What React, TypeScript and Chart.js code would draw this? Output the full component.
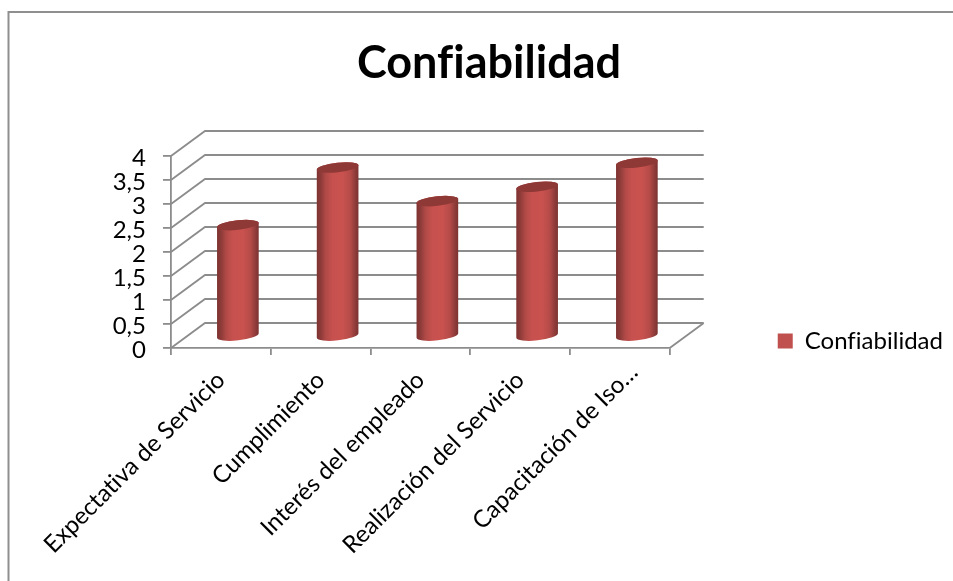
import React, { useEffect, useRef } from "react";
import { Chart, registerables } from "chart.js";

Chart.register(...registerables);

const categories = [
  "Expectativa de Servicio",
  "Cumplimiento",
  "Interés del empleado",
  "Realización del Servicio",
  "Capacitación de Iso…",
];
const confiabilidad = [2.3, 3.5, 2.8, 3.1, 3.6];
const seriesName = "Confiabilidad";

const FONT = "Lato, 'Open Sans', sans-serif";
const LINE = "#8c8c8c";
const INK = "#000000";

// Depth of the 3D box, in pixels, from the front plane to the back wall.
const DEPTH_X = 34;
const DEPTH_Y = -25;
const CAP_RY = 4.8;
const CAP_TILT = (-6.2 * Math.PI) / 180;

// A tiny letter spacing keeps the "fi" pair from being drawn as a ligature.
const textSetup = {
  id: "textSetup",
  beforeInit(chart: any) {
    chart.ctx.letterSpacing = "0.01px";
  },
  beforeLayout(chart: any) {
    chart.ctx.letterSpacing = "0.01px";
  },
  // The shortened last label sits further along its slant than the others.
  afterLayout(chart: any) {
    const items = chart.scales.x.getLabelItems();
    const last = items[items.length - 1];
    if (last) {
      const [x, y] = last.options.translation;
      last.options.translation = [x + 14, y - 8];
    }
  },
  beforeDraw(chart: any) {
    chart.ctx.letterSpacing = "0.01px";
  },
};

const chartFrame = {
  id: "chartFrame",
  beforeDraw(chart: any) {
    const { ctx, width, height } = chart;
    ctx.save();
    ctx.fillStyle = "#ffffff";
    ctx.fillRect(0, 0, width, height);
    ctx.strokeStyle = "#8f8f8f";
    ctx.lineWidth = 2;
    ctx.beginPath();
    ctx.moveTo(8.5, height);
    ctx.lineTo(8.5, 12);
    ctx.lineTo(width, 12);
    ctx.stroke();
    ctx.restore();
  },
};

// Side wall, back wall and floor edge of the 3D box, taken from the value scale.
const wallGrid = {
  id: "wallGrid",
  beforeDatasetsDraw(chart: any) {
    const { ctx, scales, chartArea } = chart;
    ctx.save();
    ctx.strokeStyle = LINE;
    ctx.lineWidth = 1.8;
    ctx.beginPath();
    for (const tick of scales.y.ticks) {
      const y = scales.y.getPixelForValue(tick.value);
      ctx.moveTo(chartArea.left, y);
      ctx.lineTo(chartArea.left + DEPTH_X, y + DEPTH_Y);
      ctx.lineTo(chartArea.right + DEPTH_X, y + DEPTH_Y);
    }
    ctx.moveTo(chartArea.right + DEPTH_X, chartArea.bottom + DEPTH_Y);
    ctx.lineTo(chartArea.right, chartArea.bottom);
    ctx.stroke();
    ctx.restore();
  },
};

// Draws each bar element as a cylinder standing halfway into the box.
const cylinderBars = {
  id: "cylinderBars",
  beforeDatasetDraw(chart: any, args: any) {
    const { ctx } = chart;
    for (const el of args.meta.data) {
      const cx = el.x + DEPTH_X / 2;
      const top = el.y + DEPTH_Y / 2;
      const base = el.base + DEPTH_Y / 2 + 1;
      const rx = el.width / 2;
      const left = cx - rx;

      const body = ctx.createLinearGradient(left, 0, left + el.width, 0);
      body.addColorStop(0, "#7d3331");
      body.addColorStop(0.1, "#8e3b39");
      body.addColorStop(0.22, "#b04a47");
      body.addColorStop(0.38, "#c7514e");
      body.addColorStop(0.62, "#c9524f");
      body.addColorStop(0.8, "#b54b48");
      body.addColorStop(0.92, "#8f3c3a");
      body.addColorStop(1, "#7a3230");

      ctx.save();
      ctx.beginPath();
      ctx.ellipse(cx, base, rx, CAP_RY, CAP_TILT, 0, Math.PI);
      ctx.ellipse(cx, top, rx, CAP_RY, CAP_TILT, Math.PI, 2 * Math.PI);
      ctx.closePath();
      ctx.fillStyle = body;
      ctx.fill();

      ctx.beginPath();
      ctx.ellipse(cx, top, rx, CAP_RY, CAP_TILT, 0, 2 * Math.PI);
      ctx.fillStyle = "#8f3937";
      ctx.fill();
      ctx.restore();
    }
    return false;
  },
};

export default function App() {
  const canvasRef = useRef<HTMLCanvasElement | null>(null);

  useEffect(() => {
    const chart = new Chart(canvasRef.current as HTMLCanvasElement, {
      type: "bar",
      data: {
        labels: categories,
        datasets: [
          {
            label: seriesName,
            data: confiabilidad,
            backgroundColor: "#c0504d",
            borderWidth: 0,
            barPercentage: 0.42,
            categoryPercentage: 1,
          },
        ],
      },
      options: {
        responsive: false,
        animation: false,
        // The negative bottom padding drops the vertically centred legend beside the floor.
        layout: { padding: { left: 25, right: 0, top: 0, bottom: -101 } },
        plugins: {
          tooltip: { enabled: false },
          title: {
            display: true,
            text: seriesName,
            color: INK,
            font: { family: FONT, size: 45, weight: "bold", lineHeight: 1.2 },
            padding: { top: 36, bottom: 66 },
          },
          legend: {
            display: true,
            position: "right",
            maxWidth: 220,
            labels: {
              boxWidth: 15,
              boxHeight: 15,
              color: INK,
              padding: 10,
              font: { family: FONT, size: 24 },
            },
          },
        },
        scales: {
          x: {
            type: "category",
            grid: {
              drawOnChartArea: false,
              color: LINE,
              lineWidth: 1.8,
              tickLength: 7,
            },
            border: { color: LINE, width: 1.8 },
            ticks: {
              color: INK,
              font: { family: FONT, size: 24 },
              minRotation: 45,
              maxRotation: 45,
              autoSkip: false,
              padding: 11,
            },
            afterFit(scale: any) {
              scale.height = 334;
              scale.paddingLeft = 0;
              scale.paddingRight = 0;
            },
          },
          y: {
            min: 0,
            max: 4,
            grid: {
              drawOnChartArea: false,
              color: LINE,
              lineWidth: 1.8,
              tickLength: 8,
            },
            border: { color: LINE, width: 1.8 },
            ticks: {
              stepSize: 0.5,
              autoSkip: false,
              color: INK,
              padding: 17,
              font: { family: FONT, size: 24, lineHeight: "5px" },
              // The empty first line nudges each number just below its tick mark.
              callback: (v: any) => ["", String(v).replace(".", ",")],
            },
            afterFit(scale: any) {
              scale.width = 146;
            },
          },
          // Blank axis that reserves the gap between the box and the legend.
          gap: {
            type: "linear",
            position: "right",
            display: true,
            grid: { display: false },
            border: { display: false },
            ticks: { display: false },
            afterFit(scale: any) {
              scale.width = 98;
            },
          },
        },
      },
      plugins: [textSetup, chartFrame, wallGrid, cylinderBars],
    } as any);
    return () => chart.destroy();
  }, []);

  return (
    <div style={{ position: "absolute", left: 0, top: 0, width: 953, height: 581 }}>
      <canvas ref={canvasRef} width={953} height={581} style={{ display: "block" }} />
    </div>
  );
}
